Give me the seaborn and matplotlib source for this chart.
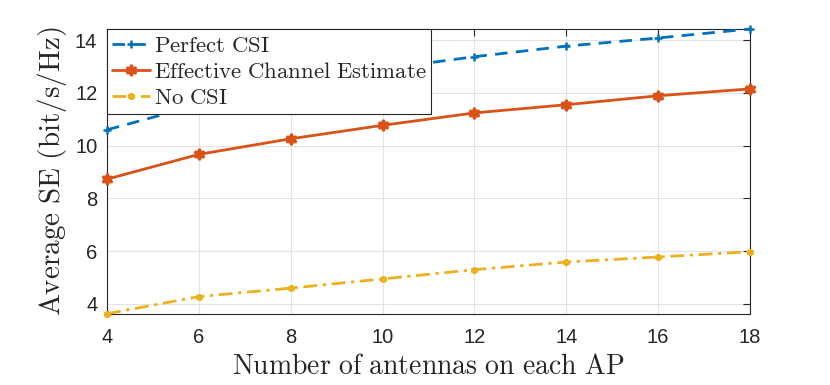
import matplotlib
matplotlib.use("Agg")
import matplotlib.pyplot as plt
import seaborn as sns
import pandas as pd

antennas = [4, 6, 8, 10, 12, 14, 16, 18]
perfect_csi = [10.60, 11.55, 12.30, 12.90, 13.37, 13.77, 14.08, 14.42]
effective_est = [8.73, 9.67, 10.26, 10.77, 11.24, 11.55, 11.89, 12.15]
no_csi = [3.63, 4.28, 4.60, 4.95, 5.30, 5.59, 5.78, 5.98]
series_names = ["Perfect CSI", "Effective Channel Estimate", "No CSI"]
xticks = [4, 6, 8, 10, 12, 14, 16, 18]
yticks = [4, 6, 8, 10, 12, 14]

sns.set_style("white")
plt.rcParams["font.family"] = ["Liberation Sans", "DejaVu Sans"]
plt.rcParams["mathtext.fontset"] = "cm"

df = pd.DataFrame({
    "N": antennas * 3,
    "SE": perfect_csi + effective_est + no_csi,
    "Scheme": sum([[n] * len(antennas) for n in series_names], []),
})

fig = plt.figure(figsize=(8.3, 3.85), dpi=100)
ax = fig.add_axes([0.129, 0.1844, 0.7746, 0.7403])

colors = ["#0072BD", "#D95319", "#EDB120"]
styles = [(0, (4.5, 3)), "-", (0, (5, 2, 1.2, 2))]
markers = ["+", (6, 1, 0), (6, 2, 0)]
msizes = [6, 8, 5]

for name, c, ls, mk, ms in zip(series_names, colors, styles, markers, msizes):
    sub = df[df["Scheme"] == name]
    sns.lineplot(data=sub, x="N", y="SE", ax=ax, color=c, linestyle=ls,
                 marker=mk, markersize=ms, markeredgewidth=1.8,
                 markeredgecolor=c, markerfacecolor=c, linewidth=2.0,
                 label=r"$\mathrm{" + name.replace(" ", r"\ ") + "}$",
                 clip_on=False, zorder=3)

ax.set_xlim(4, 18)
ax.set_ylim(3.62, 14.42)
ax.set_xticks(xticks)
ax.set_yticks(yticks)
ax.grid(True, color="#e3e3e3", linewidth=0.8)
ax.set_axisbelow(True)
ax.tick_params(direction="in", length=5, width=0.8, color="#262626",
               labelsize=14.5, labelcolor="#262626", top=True, right=True)
ax.tick_params(axis="x", pad=10)
ax.tick_params(axis="y", pad=7)
for s in ax.spines.values():
    s.set_color("#262626")
    s.set_linewidth(0.8)

ax.set_xlabel(r"$\mathrm{Number\ of\ antennas\ on\ each\ AP}$", fontsize=20, labelpad=5)
ax.set_ylabel(r"$\mathrm{Average\ SE\ (bit/s/Hz)}$", fontsize=21, labelpad=4)

leg = ax.legend(loc="upper left", borderaxespad=0, fontsize=16.4,
                frameon=True, fancybox=False, edgecolor="#262626",
                framealpha=1, handlelength=1.7, handletextpad=0.15,
                labelspacing=0.15, borderpad=0.2)
leg.get_frame().set_linewidth(0.8)

fig.savefig("out.png", dpi=100)
